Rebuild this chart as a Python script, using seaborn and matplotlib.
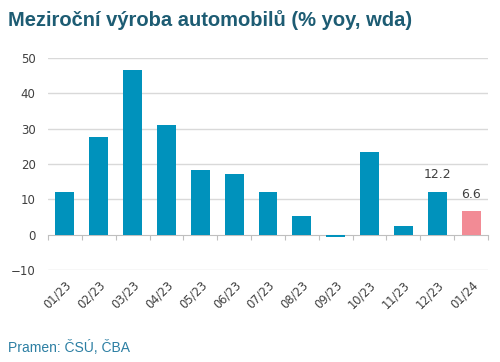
import numpy as np
import pandas as pd
import matplotlib
matplotlib.use("Agg")
import matplotlib.pyplot as plt
import seaborn as sns

# --- DATA ---
months = ["01/23", "02/23", "03/23", "04/23", "05/23", "06/23", "07/23",
          "08/23", "09/23", "10/23", "11/23", "12/23", "01/24"]
yoy = [12.0, 27.6, 46.6, 31.0, 18.4, 17.2, 12.2, 5.3, -0.7, 23.4, 2.4, 12.2, 6.6]
labelled = ["12/23", "01/24"]

BLUE = "#0092BC"
PINK = "#F28B95"
colors = [PINK if m == "01/24" else BLUE for m in months]

df = pd.DataFrame({"month": months, "yoy": yoy})

# --- PLOT ---
sns.set_style("white")
plt.rcParams["font.family"] = ["DejaVu Sans"]

fig = plt.figure(figsize=(5, 3.62), dpi=100)
ax = fig.add_axes([0.096, 0.254, 0.88, 0.586])

sns.barplot(data=df, x="month", y="yoy", hue="month", palette=colors,
            width=0.56, legend=False, ax=ax, saturation=1, linewidth=0)

ax.set_ylim(-10, 50)
ax.set_xlim(-0.5, len(months) - 0.5)
ax.set_yticks(range(-10, 51, 10))
ax.set_xlabel("")
ax.set_ylabel("")

# gridlines (skip zero, that's the axis line)
for v in range(-10, 51, 10):
    if v != 0:
        ax.axhline(v, color="#D9D9D9", lw=1, zorder=0)

for s in ax.spines.values():
    s.set_visible(False)

ax.tick_params(axis="y", length=0, labelsize=8.5, labelcolor="#404040", pad=9)
ax.tick_params(axis="x", length=0, labelsize=8.3, labelcolor="#404040", pad=6)
plt.setp(ax.get_xticklabels(), rotation=45, ha="right", rotation_mode="anchor")

# zero line with category separators
zero_ax = ax.secondary_xaxis(0, transform=ax.transData)
zero_ax.spines["bottom"].set_color("#BFBFBF")
zero_ax.spines["bottom"].set_linewidth(0.8)
zero_ax.set_xticks(np.arange(-0.5, len(months), 1.0))
zero_ax.tick_params(axis="x", length=3.5, width=0.8, color="#BFBFBF",
                    labelbottom=False)

# value labels
for i, (m, v) in enumerate(zip(months, yoy)):
    if m in labelled:
        ax.text(i, v + 3.0, f"{v:.1f}", ha="center", va="bottom",
                fontsize=9, color="#404040")

fig.text(0.016, 0.945, "Meziroční výroba automobilů (% yoy, wda)",
         fontsize=14.5, fontweight="bold", color="#1D5C73",
         family=["Liberation Sans", "DejaVu Sans"], va="center")
fig.text(0.016, 0.041, "Pramen: ČSÚ, ČBA", fontsize=10, color="#2C7FA3",
         family=["Liberation Sans", "DejaVu Sans"], va="center")

fig.savefig("out.png", dpi=100)
